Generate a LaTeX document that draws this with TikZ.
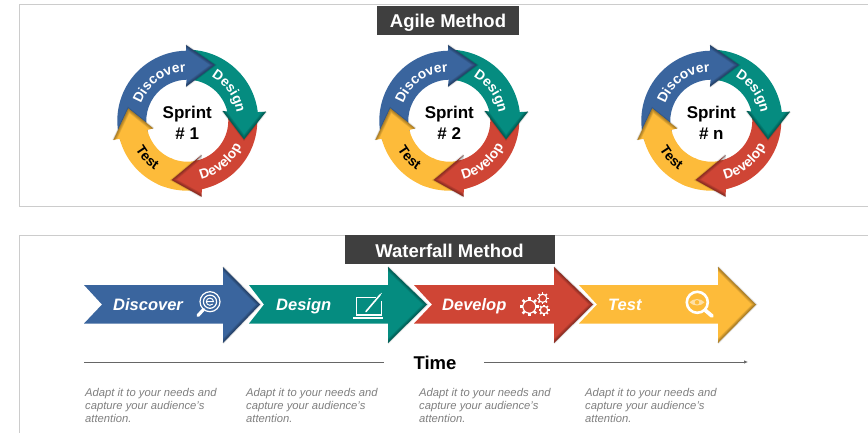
\documentclass[tikz,border=0pt]{standalone}
\usepackage{fontspec}
\setmainfont{Liberation Sans}
\usetikzlibrary{decorations.text,arrows.meta,calc}
\definecolor{cblue}{HTML}{3A659E}
\definecolor{cgreen}{HTML}{058C80}
\definecolor{cred}{HTML}{CF4535}
\definecolor{cyellow}{HTML}{FDBB3A}
\definecolor{cdark}{HTML}{3F3F3F}
\definecolor{cframe}{HTML}{CCCCCC}
\definecolor{ccap}{HTML}{7F7F7F}
\newcommand{\fsz}[1]{\fontsize{#1}{#1}\selectfont}
% soft shadow outside a head (before its fill)
\newcommand{\softshade}[1]{%
  \foreach \w in {2.2,1.2}{\draw[black,opacity=.08,line width=\w pt] #1;}}
% dark bevel inside a head (after its fill)
\newcommand{\innershade}[1]{%
  \begin{scope}\clip #1;
  \foreach \w in {6,4.5,3,1.6}{\draw[black,opacity=.09,line width=\w pt] #1;}
  \end{scope}}
\newcommand{\arclabel}[3]{% colour, path, text
  \path[decorate,decoration={text along path,text align=center,
     text={|\fsz{13.8}\bfseries\color{#1}|#3}}] #2;}
\newcommand{\sprint}[4]{% centre x, centre y, name, second line
\begin{scope}[shift={(#1,#2)}]
  % tail of the yellow arrow lies under the red head
  \fill[cyellow] (245:70) arc[start angle=245,end angle=285,radius=70] -- (285:41) arc[start angle=285,end angle=245,radius=41] -- cycle;
  % red
  \softshade{(14.3,-34.3) -- (-15.7,-59.3) -- (14.3,-76)}
  \fill[cred] (-78:70) arc[start angle=-78,end angle=5,radius=70] -- (5:41) arc[start angle=5,end angle=-78,radius=41] -- (14.3,-34.3) -- (-15.7,-59.3) -- (14.3,-76) -- cycle;
  \innershade{(14.3,-34.3) -- (-15.7,-59.3) -- (14.3,-76)}
  % green
  \softshade{(35.3,9.7) -- (56.7,-18.7) -- (78.7,9)}
  \fill[cgreen] (7:71) arc[start angle=7,end angle=85,radius=71] -- (85:41) arc[start angle=85,end angle=13,radius=41] -- (35.3,9.7) -- (56.7,-18.7) -- (78.7,9) -- cycle;
  \innershade{(35.3,9.7) -- (56.7,-18.7) -- (78.7,9)}
  % blue
  \softshade{(-1.3,75.7) -- (27.7,55.7) -- (-1.3,34)}
  \fill[cblue] (91:70) arc[start angle=91,end angle=197,radius=70] -- (197:41) arc[start angle=197,end angle=91,radius=41] -- (-1.3,34) -- (27.7,55.7) -- (-1.3,75.7) -- cycle;
  \innershade{(-1.3,75.7) -- (27.7,55.7) -- (-1.3,34)}
  % yellow head and body
  \softshade{(-34,-7.7) -- (-59,12.3) -- (-74,-19.3)}
  \fill[cyellow] (-74,-19.3) -- (-59,12.3) -- (-34,-7.7) -- (193:41) arc[start angle=193,end angle=250,radius=41] -- (250:70) arc[start angle=250,end angle=195,radius=70] -- cycle;
  \innershade{(-34,-7.7) -- (-59,12.3) -- (-74,-19.3)}
  % labels
  \arclabel{white}{(176:49) arc[start angle=176,end angle=76,radius=49]}{Discover}
  \arclabel{white}{(78:50) arc[start angle=78,end angle=-8,radius=50]}{Design}
  \arclabel{white}{(-92:60) arc[start angle=-92,end angle=-10,radius=60]}{Develop}
  \arclabel{black}{(188:59.5) arc[start angle=188,end angle=258,radius=59.5]}{Test}
  \node[sprinttext] (#3a) at (0,6.4) {Sprint};
  \node[sprinttext] (#3b) at (0,-12.9) {\# #4};
\end{scope}}
\newcommand{\wfarrow}[5]{% colour, left, notch, back, tip
  \softshade{(#4,-267) -- (#5,-304.5) -- (#4,-343)}
  \fill[#1] (#2,-285) -- (#4,-285) -- (#4,-267) -- (#5,-304.5) -- (#4,-343) -- (#4,-323.5) -- (#2,-323.5) -- (#3,-304.5) -- cycle;
  \innershade{(#4,-267) -- (#5,-304.5) -- (#4,-343)}
}
\newcommand{\gearicon}[4]{% x y r teeth
  \draw[white,line width=1.1pt] (#1,#2) circle[radius=#3*.68];
  \foreach \a in {1,...,#4}{\draw[white,line width=#3*.26pt] ($(#1,#2)+(\a*360/#4:#3*.68)$) -- ($(#1,#2)+(\a*360/#4:#3)$);}
}
\tikzset{
  x=1pt,y=1pt,
  sprinttext/.style={font=\fsz{17}\bfseries,text=black,inner sep=0pt},
  headbox/.style={fill=cdark,text=white,font=\fsz{18.5}\bfseries,inner sep=0pt,anchor=center,text depth=0pt,text height=15pt},
  wftext/.style={font=\fsz{16.5}\bfseries\itshape,text=white,inner sep=0pt,anchor=base west},
  captext/.style={font=\fsz{11.25}\itshape,text=ccap,inner sep=0pt,anchor=north west,align=left},
  icon/.style={white,line width=1.2pt},
  timeline/.style={draw=black!60,line width=.7pt},
}
\begin{document}
\begin{tikzpicture}
\useasboundingbox (0,-433) rectangle (868,0);
\fill[white] (0,-433) rectangle (868,0);
% panels
\draw[cframe,line width=1pt] (868,-5) -- (19,-5) -- (19,-207) -- (868,-207);
\draw[cframe,line width=1pt] (868,-235) -- (19,-235) -- (19,-433);
% headers
\node[headbox,minimum width=142pt,minimum height=29pt] (agile) at (448,-20.5) {Agile Method};
\node[headbox,minimum width=210pt,minimum height=29pt] (water) at (449.5,-249.5) {Waterfall Method};
% sprints
\sprint{187.3}{-120.7}{s1}{1}
\sprint{449.3}{-120.7}{s2}{2}
\sprint{711.3}{-120.7}{s3}{n}
% waterfall arrows
\wfarrow{cyellow}{579}{597}{718}{756}
\wfarrow{cred}{414}{432}{554}{593}
\wfarrow{cgreen}{249}{264}{388}{427}
\wfarrow{cblue}{84}{102}{223}{260}
\node[wftext] (d1) at (113,-310) {Discover};
\node[wftext] (d2) at (276,-310) {Design};
\node[wftext] (d3) at (442,-310) {Develop};
\node[wftext] (d4) at (608,-310) {Test};
% discover icon
\draw[icon] (210,-301.7) circle[radius=10];
\draw[icon] (210,-301.7) circle[radius=6.6];
\draw[white,line width=1pt] (206.5,-301.7) -- (213.5,-301.7) arc[start angle=0,end angle=320,radius=3.6];
\draw[white,line width=3.2pt,line cap=round] (203.5,-309.5) -- (198,-315.5);
% laptop icon
\draw[icon] (376,-297.7) -- (356.7,-297.7) -- (356.7,-315) -- (381.7,-315) -- (381.7,-301);
\fill[white] (353,-316.8) rectangle (383,-318.8);
\draw[white,line width=1.6pt,line cap=round] (380,-295) -- (366,-311.5);
\draw[white,line width=.6pt] (381.7,-293) -- (380,-295);
% gears
\gearicon{529.3}{-306.7}{9.5}{8}
\gearicon{542.7}{-298.3}{6}{8}
\gearicon{544}{-310}{5.5}{8}
% test icon
\draw[white,line width=2.6pt] (697.3,-302.3) circle[radius=10.5];
\draw[white,line width=3.8pt,line cap=round] (705.5,-310.5) -- (712,-316);
\fill[white,opacity=.55] (689.5,-302.3) .. controls (693,-298) and (701,-298) .. (704.5,-302.3) .. controls (701,-306.5) and (693,-306.5) .. (689.5,-302.3) -- cycle;
\fill[cyellow] (697,-302.3) circle[radius=2.2];
% time line
\node[font=\fsz{18.5}\bfseries,inner sep=0pt] (time) at (435,-362.5) {Time};
\coordinate (tl) at (84,-362);
\coordinate (tm) at (384,-362);
\coordinate (tn) at (484,-362);
\coordinate (tr) at (748,-362);
\draw[timeline] (tl) -- (tm);
\draw[timeline,-{Latex[length=4pt,width=3.4pt]}] (tn) -- (tr);
% captions
\foreach \n/\x in {c1/85,c2/246,c3/419,c4/585}{
  \node[captext] (\n) at (\x,-388) {Adapt it to your needs and\\[1.95pt]capture your audience's\\[1.95pt]attention.};
}
\end{tikzpicture}
\end{document}
